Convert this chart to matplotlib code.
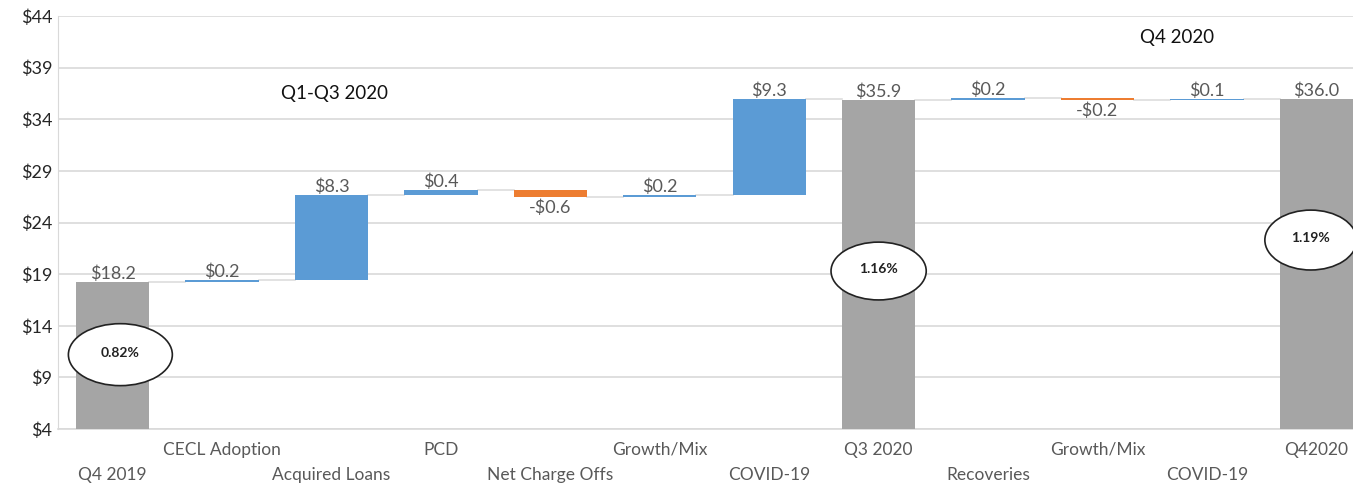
import matplotlib
matplotlib.use("Agg")
import matplotlib.pyplot as plt
from matplotlib.patches import Ellipse

plt.rcParams['font.family'] = ['Lato', 'DejaVu Sans']

categories = ["Q4 2019", "CECL Adoption", "Acquired Loans", "PCD", "Net Charge Offs",
              "Growth/Mix", "COVID-19", "Q3 2020", "Recoveries", "Growth/Mix",
              "COVID-19", "Q42020"]
changes = [18.2, 0.2, 8.3, 0.4, -0.6, 0.2, 9.3, 35.9, 0.2, -0.2, 0.1, 36.0]
is_total = [True, False, False, False, False, False, False, True, False, False, False, True]
value_labels = ["$18.2", "$0.2", "$8.3", "$0.4", "-$0.6", "$0.2", "$9.3", "$35.9",
                "$0.2", "-$0.2", "$0.1", "$36.0"]
ratio_labels = {0: "0.82%", 7: "1.16%", 11: "1.19%"}
yticks = [4, 9, 14, 19, 24, 29, 34, 39, 44]

GRAY = "#a5a5a5"
BLUE = "#5b9bd5"
ORANGE = "#ed7d31"
TXT = "#595959"

fig = plt.figure(figsize=(13.53, 4.86), dpi=100)
ax = fig.add_axes([58/1353, 57/486, 1313/1353, 413/486])

x = list(range(len(categories)))
bottoms, heights, colors, tops = [], [], [], []
running = 0.0
for i, (c, tot) in enumerate(zip(changes, is_total)):
    if tot:
        bottoms.append(0)
        heights.append(c)
        colors.append(GRAY)
        running = c
    else:
        if c >= 0:
            bottoms.append(running)
            heights.append(c)
            colors.append(BLUE)
        else:
            bottoms.append(running + c)
            heights.append(-c)
            colors.append(ORANGE)
        running = running + c
    tops.append(running)

w = 0.67
ax.bar(x, heights, bottom=bottoms, width=w, color=colors, zorder=3)

# connectors
for i in range(len(x) - 1):
    level = tops[i]
    ax.plot([x[i] + w/2, x[i+1] - w/2], [level, level], color="#dddddd", lw=1.2, zorder=2)

# value labels
for i in range(len(x)):
    if changes[i] < 0:
        ax.annotate(value_labels[i], (x[i], bottoms[i]), xytext=(0, -2), textcoords="offset points",
                    ha="center", va="top", fontsize=13, color=TXT, zorder=5)
    else:
        ax.annotate(value_labels[i], (x[i], bottoms[i] + heights[i]), xytext=(0, 0), textcoords="offset points",
                    ha="center", va="bottom", fontsize=13, color=TXT, zorder=5)

# ellipses
ell_specs = {0: (0.07, 11.2, 0.95, 6.0), 7: (7.0, 19.3, 0.87, 5.6), 11: (10.95, 22.3, 0.84, 5.8)}
for i, (cx, cy, ew, eh) in ell_specs.items():
    ax.add_patch(Ellipse((cx, cy), ew, eh, facecolor="white", edgecolor="#222222", lw=1.2, zorder=6))
    ax.text(cx, cy + 0.2, ratio_labels[i], ha="center", va="center", fontsize=10, color="#222222",
            fontweight="bold", zorder=7)

ax.text(2.03, 36.5, "Q1-Q3 2020", ha="center", va="center", fontsize=13.5, color="#111111")
ax.text(9.73, 41.9, "Q4 2020", ha="center", va="center", fontsize=13.5, color="#111111")

ax.set_xlim(-0.5, 11.5)
ax.set_ylim(4, 44)
ax.set_yticks(yticks)
ax.set_yticklabels([f"${v}" for v in yticks], fontsize=13, color="#262626")
ax.yaxis.grid(True, color="#d9d9d9", lw=1.2, zorder=0)
ax.set_axisbelow(True)
ax.tick_params(axis="y", length=0, pad=4)
ax.set_xticks(x)
ax.set_xticklabels(categories, fontsize=12.5, color=TXT)
ax.tick_params(axis="x", length=0)
for i, t in enumerate(ax.xaxis.get_major_ticks()):
    t.set_pad(9 if i % 2 == 1 else 27)

for s in ["top", "right"]:
    ax.spines[s].set_visible(False)
ax.spines["left"].set_color("#d9d9d9")
ax.spines["bottom"].set_color("#d9d9d9")
ax.spines["bottom"].set_linewidth(1.2)

fig.savefig("out.png", dpi=100)
